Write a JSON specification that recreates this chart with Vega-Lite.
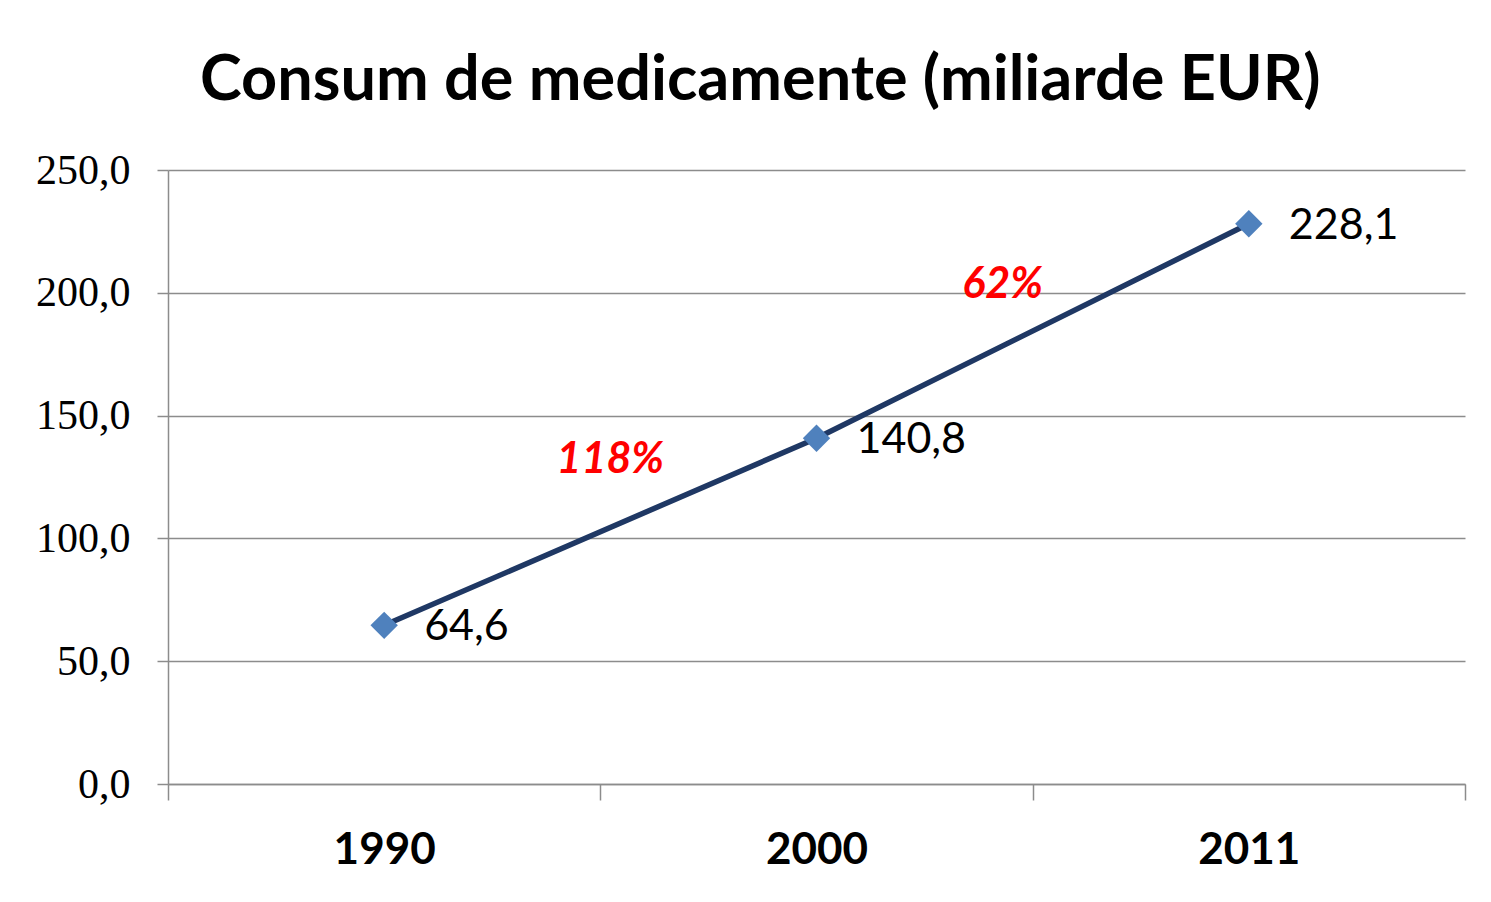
{
  "$schema": "https://vega.github.io/schema/vega-lite/v6.json",
  "width": 1297,
  "height": 614,
  "autosize": {"type": "none"},
  "padding": {"left": 168, "top": 170, "right": 26, "bottom": 118},
  "background": "white",
  "config": {
    "view": {"stroke": null},
    "locale": {"number": {"decimal": ",", "thousands": ".", "grouping": [3], "currency": ["", " €"]}}
  },
  "title": {
    "text": "Consum de medicamente (miliarde EUR)",
    "font": "Lato",
    "fontSize": 63,
    "fontWeight": "bold",
    "color": "#000000",
    "anchor": "start",
    "frame": "group",
    "dx": 32,
    "offset": 36
  },
  "datasets": {
    "series": [
      {"year": "1990", "value": 64.6},
      {"year": "2000", "value": 140.8},
      {"year": "2011", "value": 228.1}
    ],
    "note1": [
      {"year": "1990", "value": 131.9, "label": "118%"}
    ],
    "note2": [
      {"year": "2000", "value": 203.2, "label": "62%"}
    ]
  },
  "encoding": {
    "x": {
      "field": "year",
      "type": "nominal",
      "bandPosition": 0.5,
      "scale": {"type": "band", "paddingInner": 0, "paddingOuter": 0, "domain": ["1990", "2000", "2011"]},
      "axis": {
        "title": null,
        "tickBand": "extent",
        "tickSize": 16,
        "tickColor": "#8c8c8c",
        "tickWidth": 1.5,
        "domainColor": "#8c8c8c",
        "domainWidth": 1.5,
        "labelFont": "Lato",
        "labelFontSize": 44,
        "labelFontWeight": "bold",
        "labelColor": "#000000",
        "labelPadding": 28,
        "labelAngle": 0,
        "grid": false
      }
    },
    "y": {
      "field": "value",
      "type": "quantitative",
      "scale": {"domain": [0, 250], "nice": false, "zero": true},
      "axis": {
        "title": null,
        "values": [0, 50, 100, 150, 200, 250],
        "format": ".1f",
        "grid": true,
        "gridColor": "#8c8c8c",
        "gridWidth": 1.5,
        "domain": true,
        "domainColor": "#8c8c8c",
        "domainWidth": 1.5,
        "tickColor": "#8c8c8c",
        "tickWidth": 1.5,
        "tickSize": 11,
        "labelPadding": 27,
        "labelFont": "Liberation Serif",
        "labelFontSize": 42,
        "labelColor": "#000000"
      }
    }
  },
  "layer": [
    {
      "data": {"name": "series"},
      "mark": {"type": "line", "color": "#1f3864", "strokeWidth": 5.5}
    },
    {
      "data": {"name": "series"},
      "mark": {"type": "point", "shape": "diamond", "filled": true, "opacity": 1, "color": "#4f81bd", "size": 750}
    },
    {
      "data": {"name": "series"},
      "mark": {"type": "text", "align": "left", "baseline": "middle", "dx": 40, "dy": 2, "font": "Lato", "fontSize": 43, "color": "#000000"},
      "encoding": {"text": {"field": "value", "type": "quantitative", "format": ".1f"}}
    },
    {
      "data": {"name": "note1"},
      "mark": {"type": "text", "align": "center", "baseline": "middle", "dx": 10, "font": "Lato", "fontSize": 43, "fontWeight": "bold", "fontStyle": "italic", "color": "#ff0000"},
      "encoding": {
        "x": {"field": "year", "type": "nominal", "bandPosition": 1},
        "text": {"field": "label", "type": "nominal"}
      }
    },
    {
      "data": {"name": "note2"},
      "mark": {"type": "text", "align": "center", "baseline": "middle", "dx": -30, "font": "Lato", "fontSize": 43, "fontWeight": "bold", "fontStyle": "italic", "color": "#ff0000"},
      "encoding": {
        "x": {"field": "year", "type": "nominal", "bandPosition": 1},
        "text": {"field": "label", "type": "nominal"}
      }
    }
  ]
}
